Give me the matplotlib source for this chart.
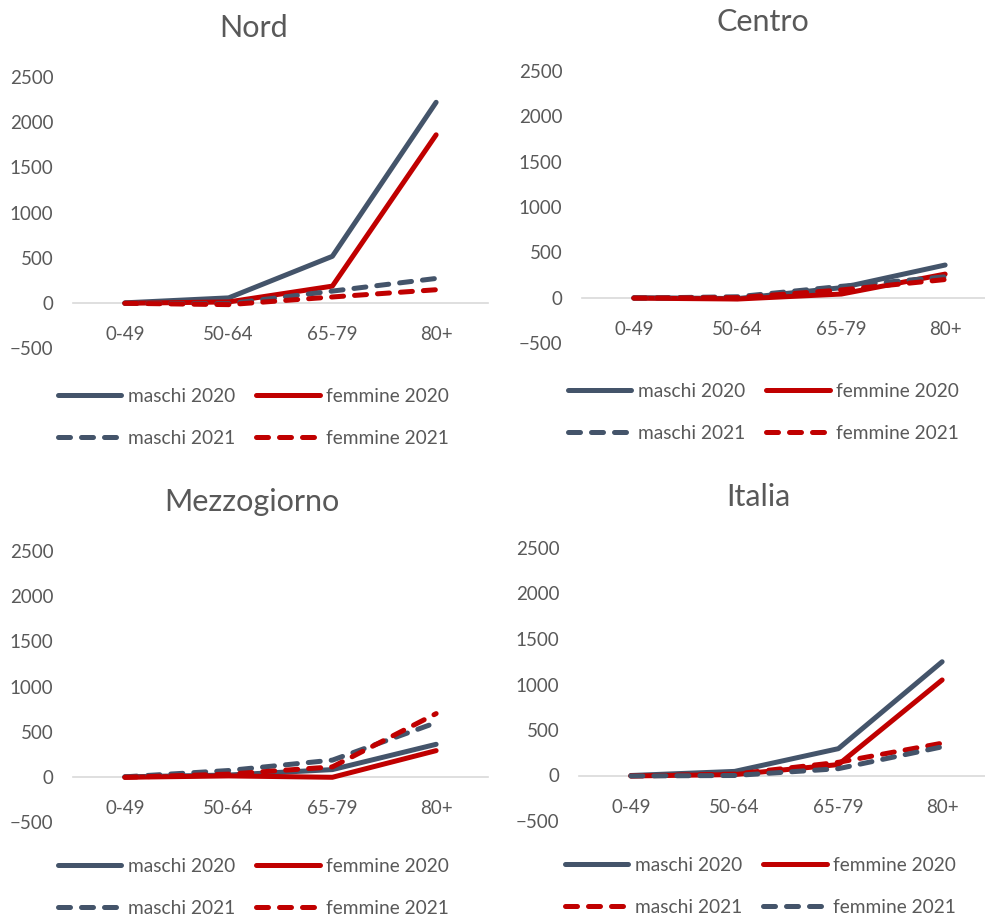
import matplotlib.pyplot as plt
from matplotlib.lines import Line2D

plt.rcParams['font.family'] = ['Lato', 'DejaVu Sans']

categories = ['0-49', '50-64', '65-79', '80+']

nord_m20 = [0, 55, 515, 2220]
nord_f20 = [-5, 10, 185, 1860]
nord_m21 = [-5, -10, 130, 270]
nord_f21 = [-5, -20, 65, 145]

centro_m20 = [0, -10, 110, 360]
centro_f20 = [-5, -15, 40, 260]
centro_m21 = [-5, 10, 125, 230]
centro_f21 = [-5, 0, 85, 200]

mezz_m20 = [0, 20, 80, 360]
mezz_f20 = [-5, 10, -5, 290]
mezz_m21 = [0, 70, 185, 600]
mezz_f21 = [-5, 30, 110, 700]

italia_m20 = [0, 45, 295, 1250]
italia_f20 = [-5, 10, 120, 1050]
italia_m21 = [-5, 15, 145, 355]
italia_f21 = [-5, 0, 75, 315]

GREY = '#44546A'
RED = '#C00000'
TXT = '#595959'
LW = 3.6
DASH = (2.4, 2.2)

W, H = 985, 917
fig = plt.figure(figsize=(W / 100, H / 100), dpi=100)


def add_panel(title, series, colors, box, title_xy, leg_xy):
    left, right, top, bottom = box
    ax = fig.add_axes([left / W, 1 - bottom / H, (right - left) / W, (bottom - top) / H])
    x = range(len(categories))
    m20, f20, m21, f21 = series
    c20m, c20f, c21m, c21f = colors
    l1, = ax.plot(x, m20, color=c20m, lw=LW, solid_capstyle='round', solid_joinstyle='round')
    l2, = ax.plot(x, f20, color=c20f, lw=LW, solid_capstyle='round', solid_joinstyle='round')
    l3, = ax.plot(x, m21, color=c21m, lw=LW, dashes=DASH, dash_capstyle='round')
    l4, = ax.plot(x, f21, color=c21f, lw=LW, dashes=DASH, dash_capstyle='round')
    ax.set_xlim(-0.5, 3.5)
    ax.set_ylim(-500, 2500)
    ax.set_yticks(range(-500, 2501, 500))
    ax.set_xticks(list(x), categories)
    for s in ['top', 'right', 'left']:
        ax.spines[s].set_visible(False)
    ax.spines['bottom'].set_position(('data', 0))
    ax.spines['bottom'].set_color('#D9D9D9')
    ax.spines['bottom'].set_linewidth(1.2)
    ax.spines['bottom'].set_zorder(0)
    ax.tick_params(axis='x', length=0, pad=17, labelsize=13.5, labelcolor=TXT)
    ax.tick_params(axis='y', length=0, pad=14, labelsize=13.5, labelcolor=TXT)
    fig.text(title_xy[0] / W, 1 - title_xy[1] / H, title, fontsize=22, color=TXT,
             ha='center', va='center')
    ax.legend([l1, l3, l2, l4], ['maschi 2020', 'maschi 2021', 'femmine 2020', 'femmine 2021'],
              ncol=2, loc='upper left', bbox_to_anchor=(leg_xy[0] / W, 1 - leg_xy[1] / H),
              bbox_transform=fig.transFigure, frameon=False, borderpad=0, borderaxespad=0,
              handlelength=3.3, handletextpad=0.35, columnspacing=1.1, labelspacing=1.3,
              fontsize=13.8, labelcolor=TXT)
    return ax


add_panel('Nord', [nord_m20, nord_f20, nord_m21, nord_f21], [GREY, RED, GREY, RED],
          (73, 488, 77, 348), (254, 28), (58, 388))
add_panel('Centro', [centro_m20, centro_f20, centro_m21, centro_f21], [GREY, RED, GREY, RED],
          (582, 997, 71, 343), (763, 22), (568, 383))
add_panel('Mezzogiorno', [mezz_m20, mezz_f20, mezz_m21, mezz_f21], [GREY, RED, GREY, RED],
          (73, 488, 551, 822), (252, 502), (58, 858))
add_panel('Italia', [italia_m20, italia_f20, italia_m21, italia_f21], [GREY, RED, RED, GREY],
          (579, 994, 548, 821), (758, 497), (565, 857))

fig.savefig('out.png', dpi=100)
